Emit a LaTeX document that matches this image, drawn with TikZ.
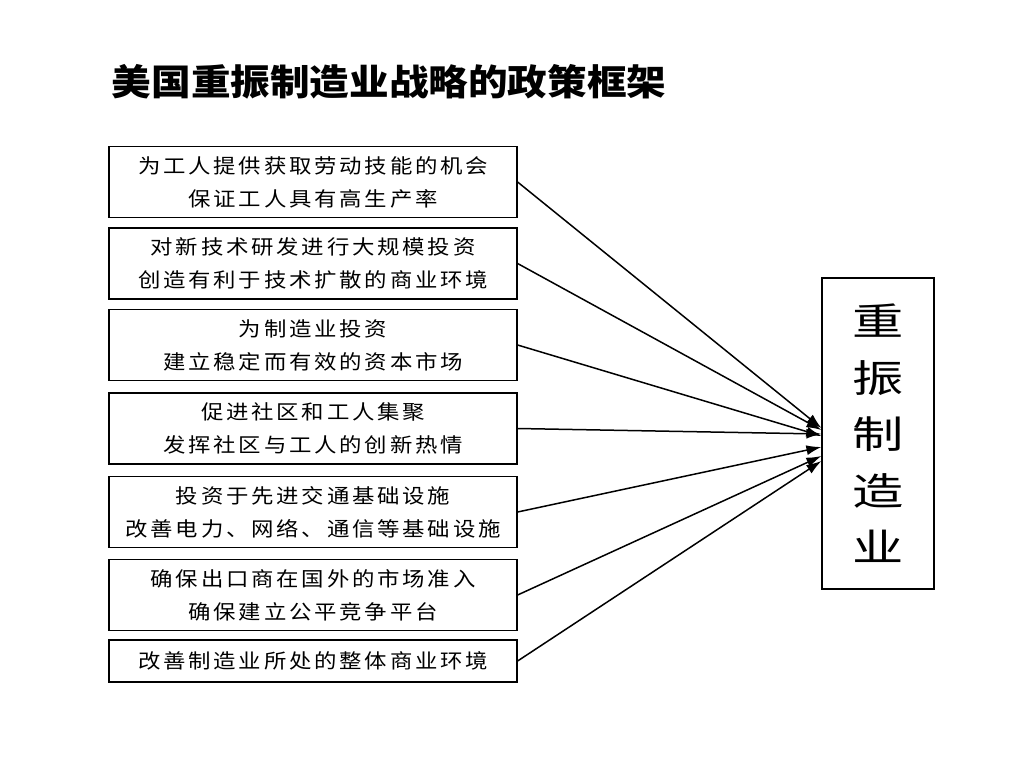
\documentclass[tikz,border=0pt]{standalone}
\usepackage{fontspec}
\usepackage{tikz}
\usetikzlibrary{arrows.meta}
\newfontfamily\cjk[FakeStretch=1.12,LetterSpace=14]{Noto Sans CJK SC}
\newfontfamily\cjktitle[FakeStretch=1.1]{Noto Sans CJK SC}
\newfontfamily\cjkbig[FakeStretch=1.35]{Noto Sans CJK SC}
\tikzstyle{policy}=[rectangle, draw=black, line width=1.2pt, minimum width=408pt, minimum height=71pt, inner sep=0pt, align=center, font=\cjk\fontsize{20}{33}\selectfont]
\tikzstyle{policy1}=[policy, minimum height=42pt]
\tikzstyle{goal}=[rectangle, draw=black, line width=1.2pt, minimum width=112pt, minimum height=311pt, inner sep=0pt, align=center, font=\cjkbig\fontsize{38}{56.5}\selectfont]
\tikzstyle{heading}=[inner sep=0pt, font=\cjktitle\bfseries\fontsize{36}{40}\selectfont]
\tikzstyle{push}=[-{Latex[length=15pt,width=10pt]}, line width=1.5pt]

\begin{document}
\begin{tikzpicture}[x=1pt,y=-1pt]
\fill[white] (0,0) rectangle (1024,768);
\useasboundingbox (0,0) rectangle (1024,768);
%Title
\node[heading] (title) at (389,82){美国重振制造业战略的政策框架};
%Policy boxes
\node[policy] (p1) at (313,182){为工人提供获取劳动技能的机会\\保证工人具有高生产率};
\node[policy] (p2) at (313,263.5){对新技术研发进行大规模投资\\创造有利于技术扩散的商业环境};
\node[policy] (p3) at (313,345){为制造业投资\\建立稳定而有效的资本市场};
\node[policy] (p4) at (313,428.5){促进社区和工人集聚\\发挥社区与工人的创新热情};
\node[policy] (p5) at (313,512){投资于先进交通基础设施\\改善电力、网络、通信等基础设施};
\node[policy] (p6) at (313,595){确保出口商在国外的市场准入\\确保建立公平竞争平台};
\node[policy1] (p7) at (313,661){改善制造业所处的整体商业环境};
%Goal
\node[goal] (goal) at (878,433.5){重\\振\\制\\造\\业};
\coordinate (t1) at ([yshift=5.5pt]goal.west);
\coordinate (t2) at ([yshift=3.5pt]goal.west);
\coordinate (t3) at ([yshift=-2.5pt]goal.west);
\coordinate (t4) at ([yshift=-0.5pt]goal.west);
\coordinate (t5) at ([yshift=-13.5pt]goal.west);
\coordinate (t6) at ([yshift=-22.5pt]goal.west);
\coordinate (t7) at ([yshift=-27.5pt]goal.west);
%Arrows
\draw[push] (p1.east) -- (t1);
\draw[push] (p2.east) -- (t2);
\draw[push] (p3.east) -- (t3);
\draw[push] (p4.east) -- (t4);
\draw[push] (p5.east) -- (t5);
\draw[push] (p6.east) -- (t6);
\draw[push] (p7.east) -- (t7);
\end{tikzpicture}
\end{document}
